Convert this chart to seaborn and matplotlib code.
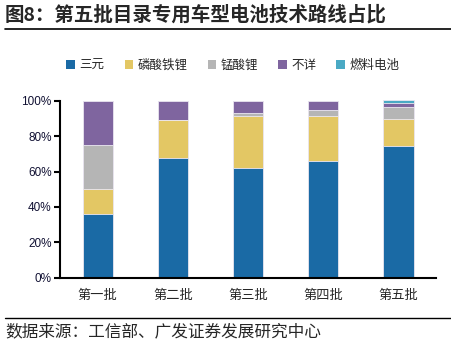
import matplotlib
matplotlib.use("Agg")
import matplotlib.pyplot as plt
import seaborn as sns
import numpy as np
import pandas as pd
from matplotlib.lines import Line2D
from matplotlib.patches import Patch

categories = ["第一批", "第二批", "第三批", "第四批", "第五批"]
series_names = ["三元", "磷酸铁锂", "锰酸锂", "不详", "燃料电池"]
sanyuan = [35.8, 67.5, 61.9, 66.2, 74.3]
lfp = [14.1, 21.6, 29.6, 25.3, 15.6]
lmo = [25.1, 0.0, 1.5, 3.4, 6.8]
unknown = [25.0, 10.9, 7.0, 5.1, 2.0]
fuel = [0.0, 0.0, 0.0, 0.0, 1.5]
yticks = [0, 20, 40, 60, 80, 100]
ytick_labels = ["0%", "20%", "40%", "60%", "80%", "100%"]
title = "图8：第五批目录专用车型电池技术路线占比"
source = "数据来源：工信部、广发证券发展研究中心"

colors = ["#1a6aa5", "#e3c764", "#b5b5b5", "#7f659f", "#4aa9c4"]

sns.set_style("white")
plt.rcParams['font.family'] = ['Noto Sans CJK SC', 'DejaVu Sans']

fig = plt.figure(figsize=(4.51, 3.47), dpi=100)
ax = fig.add_axes([0.133, 0.2, 0.834, 0.512])

series = [sanyuan, lfp, lmo, unknown, fuel]
cum = np.cumsum(np.array(series), axis=0)
for i in range(len(series) - 1, -1, -1):
    df = pd.DataFrame({"cat": categories, "val": cum[i]})
    sns.barplot(data=df, x="cat", y="val", color=colors[i], width=0.4,
                edgecolor="#ece8f2", linewidth=0.6, saturation=1, ax=ax, zorder=2)

ax.set_xlim(-0.5, 4.5)
ax.set_ylim(0, 100.5)
ax.set_yticks(yticks)
ax.set_yticklabels(ytick_labels, fontsize=8.5, family=['Liberation Sans', 'DejaVu Sans'], color="#111133")
ax.set_xticks(range(len(categories)))
ax.set_xticklabels(categories, fontsize=9.5)
ax.set_xticks(np.arange(-0.5, 5.0, 1.0), minor=True)
ax.tick_params(axis="x", which="major", length=0, pad=8)
ax.tick_params(axis="x", which="minor", length=4, width=1.5, direction="out", color="black")
ax.tick_params(axis="y", length=4, width=1.5, direction="out", color="black", left=True, pad=2)
ax.set_xlabel("")
ax.set_ylabel("")
for s in ["top", "right"]:
    ax.spines[s].set_visible(False)
ax.spines["left"].set_bounds(0, 100)
for s in ["left", "bottom"]:
    ax.spines[s].set_linewidth(1.5)
    ax.spines[s].set_color("black")

handles = [Patch(facecolor=c, edgecolor="none") for c in colors]
leg = fig.legend(handles, series_names, loc="center", ncol=5,
                 frameon=False, fontsize=9, handlelength=0.7, handleheight=0.7,
                 handletextpad=0.35, columnspacing=1.6,
                 bbox_to_anchor=(233 / 451, 1 - 65 / 347), bbox_transform=fig.transFigure)

fig.text(5 / 451, 1 - 15 / 347, title, fontsize=14, fontweight="bold", va="center", ha="left")
fig.add_artist(Line2D([5 / 451, 1.0], [1 - 28.5 / 347] * 2, color="black", linewidth=1.2, transform=fig.transFigure))
fig.add_artist(Line2D([5 / 451, 1.0], [1 - 317.5 / 347] * 2, color="black", linewidth=1.0, transform=fig.transFigure))
fig.text(5 / 451, 1 - 332 / 347, source, fontsize=12, va="center", ha="left")

fig.savefig("out.png", dpi=100)
